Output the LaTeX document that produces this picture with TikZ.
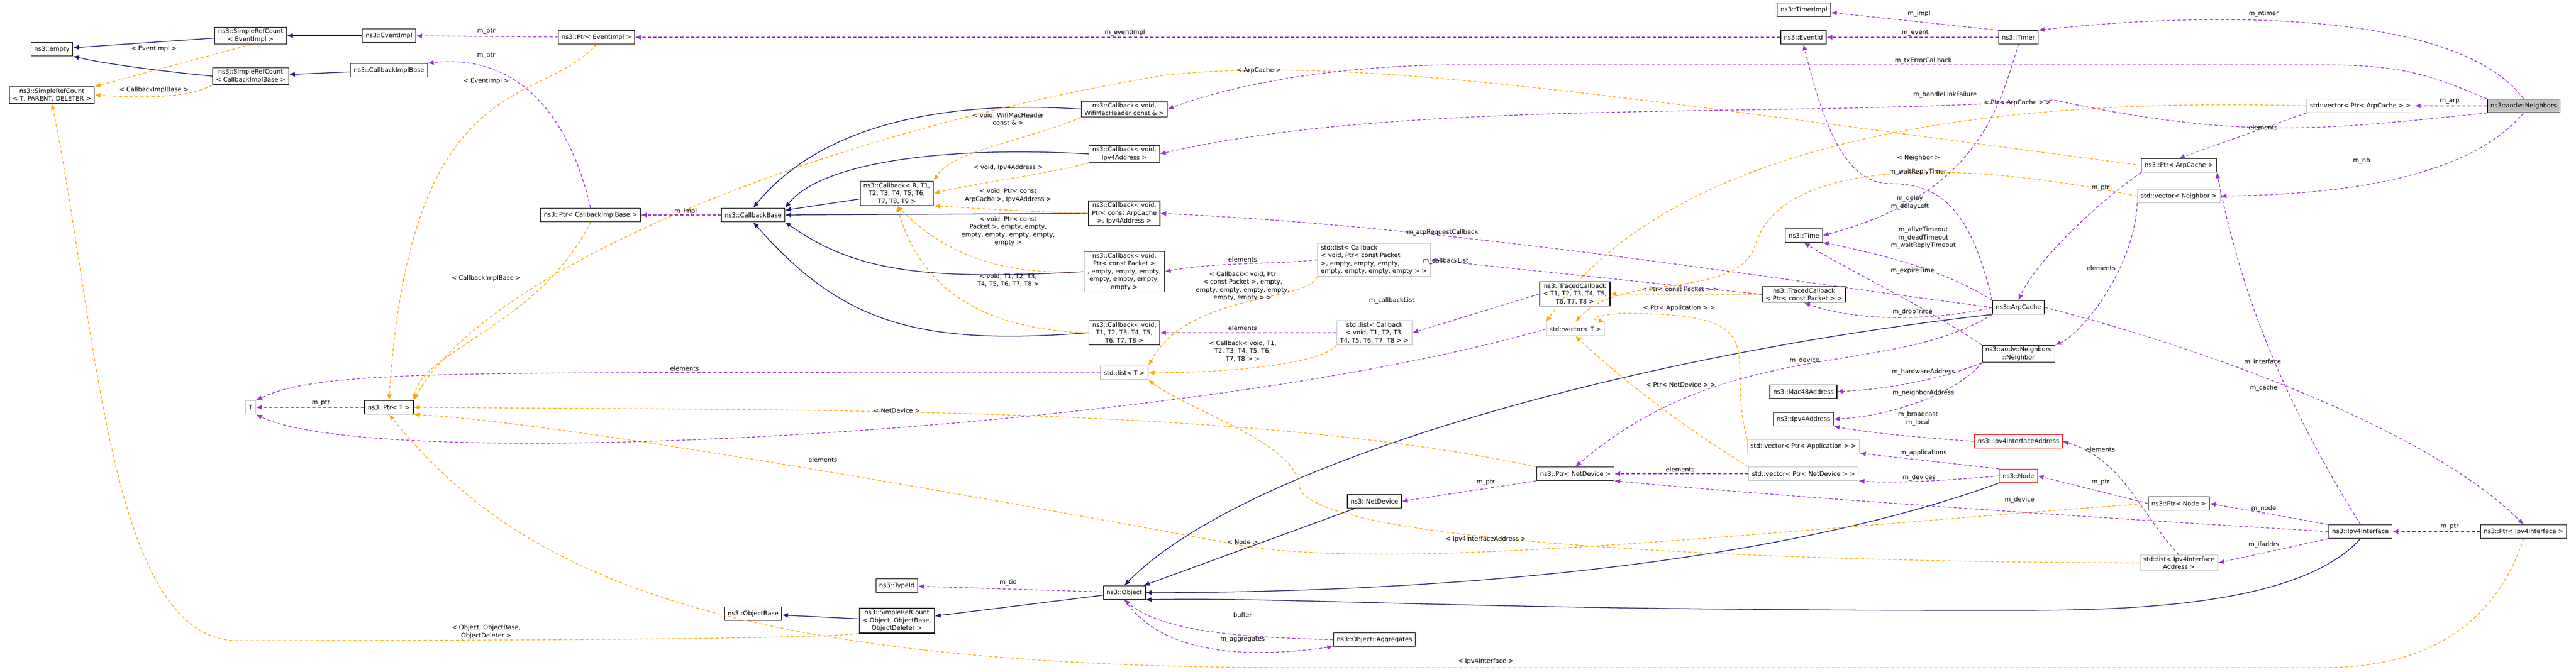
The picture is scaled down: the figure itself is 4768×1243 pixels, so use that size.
\documentclass[tikz,border=0pt]{standalone}
\usepackage{fontspec}
\newfontfamily\dxfont{DejaVu Sans}
\usetikzlibrary{arrows.meta}
\definecolor{navyc}{HTML}{191970}
\definecolor{purpc}{HTML}{9A32CD}
\definecolor{orngc}{HTML}{FFA500}
\newcommand{\dx}{\dxfont\fontsize{11.5}{14.5}\selectfont}
\tikzset{
  cls/.style={draw=black,fill=white,line width=1.2pt,align=center,inner xsep=6pt,inner ysep=3pt,minimum height=25pt,font=\dx},
  tpl/.style={cls,draw=black!25},
  cur/.style={cls,fill=black!25},
  redbox/.style={cls,draw=red},
  inh/.style={draw=navyc,line width=1.3pt,-{Latex[length=11pt,width=9pt]}},
  usedge/.style={draw=purpc,line width=1.3pt,dash pattern=on 6pt off 4pt,-{Latex[length=11pt,width=9pt]}},
  tpedge/.style={draw=orngc,line width=1.3pt,dash pattern=on 6pt off 4pt,-{Latex[length=11pt,width=9pt]}},
  lbl/.style={font=\dx,align=center,inner sep=1pt}
}
\begin{document}
\begin{tikzpicture}[x=1pt,y=-1pt]
  \useasboundingbox (0,0) rectangle (4768,1243);

  % classes, left part
  \node[cls] (empty) at (96,91) {ns3::empty};
  \node[cls] (srcEvent) at (464,66) {ns3::SimpleRefCount\\< EventImpl >};
  \node[cls] (eventImpl) at (720,66) {ns3::EventImpl};
  \node[cls] (ptrEvent) at (1104,69) {ns3::Ptr< EventImpl >};
  \node[cls] (srcTPD) at (96,176) {ns3::SimpleRefCount\\< T, PARENT, DELETER >};
  \node[cls] (srcCb) at (464,141) {ns3::SimpleRefCount\\< CallbackImplBase >};
  \node[cls] (cbImpl) at (720,130) {ns3::CallbackImplBase};
  \node[cls] (ptrCb) at (1093,398) {ns3::Ptr< CallbackImplBase >};
  \node[tpl] (T) at (464,754) {T};
  \node[cls] (ptrT) at (720,754) {ns3::Ptr< T >};

  % callbacks
  \node[cls] (cbBase) at (1394,398) {ns3::CallbackBase};
  \node[cls] (cbRT) at (1660,358) {ns3::Callback< R, T1,\\T2, T3, T4, T5, T6,\\T7, T8, T9 >};
  \node[cls] (cbWifi) at (2081,202) {ns3::Callback< void,\\WifiMacHeader const \& >};
  \node[cls] (cbIpv4) at (2081,285) {ns3::Callback< void,\\Ipv4Address >};
  \node[cls] (cbArp) at (2081,395) {ns3::Callback< void,\\Ptr< const ArpCache\\>, Ipv4Address >};
  \node[cls] (cbPkt) at (2081,503) {ns3::Callback< void,\\Ptr< const Packet >\\, empty, empty, empty,\\empty, empty, empty,\\empty >};
  \node[cls] (cbT8) at (2081,616) {ns3::Callback< void,\\T1, T2, T3, T4, T5,\\T6, T7, T8 >};
  \node[tpl] (listT) at (2081,690) {std::list< T >};

  % object part
  \node[cls] (typeId) at (1660,1084) {ns3::TypeId};
  \node[cls] (objBase) at (1394,1136) {ns3::ObjectBase};
  \node[cls] (srcObj) at (1660,1149) {ns3::SimpleRefCount\\< Object, ObjectBase,\\ObjectDeleter >};
  \node[cls] (object) at (2081,1097) {ns3::Object};
  \node[cls] (aggr) at (2544,1184) {ns3::Object::Aggregates};
  \node[cls] (netDev) at (2544,928) {ns3::NetDevice};
  \node[cls] (ptrDev) at (2916,877) {ns3::Ptr< NetDevice >};

  % middle
  \node[tpl,align=left] (listCbPkt) at (2543,481) {std::list< Callback\\< void, Ptr< const Packet\\>, empty, empty, empty,\\empty, empty, empty, empty > >};
  \node[tpl] (listCbT8) at (2544,616) {std::list< Callback\\< void, T1, T2, T3,\\T4, T5, T6, T7, T8 > >};
  \node[cls] (tcT8) at (2915,544) {ns3::TracedCallback\\< T1, T2, T3, T4, T5,\\T6, T7, T8 >};
  \node[tpl] (vecT) at (2916,609) {std::vector< T >};
  \node[cls] (tcPkt) at (3339,545) {ns3::TracedCallback\\< Ptr< const Packet > >};
  \node[cls] (timerImpl) at (3339,18) {ns3::TimerImpl};
  \node[cls] (eventId) at (3338,69) {ns3::EventId};
  \node[cls] (time) at (3339,436) {ns3::Time};
  \node[cls] (mac48) at (3338,725) {ns3::Mac48Address};
  \node[cls] (ipv4Addr) at (3338,776) {ns3::Ipv4Address};
  \node[tpl] (vecApp) at (3338,826) {std::vector< Ptr< Application > >};
  \node[tpl] (vecDev) at (3338,877) {std::vector< Ptr< NetDevice > >};

  % right part
  \node[cls] (timer) at (3736,69) {ns3::Timer};
  \node[cls] (arpCache) at (3736,569) {ns3::ArpCache};
  \node[cls] (neighbor) at (3736,655) {ns3::aodv::Neighbors\\::Neighbor};
  \node[redbox] (ifAddr) at (3736,817) {ns3::Ipv4InterfaceAddress};
  \node[redbox] (node) at (3736,881) {ns3::Node};
  \node[cls] (ptrArp) at (4033,306) {ns3::Ptr< ArpCache >};
  \node[tpl] (vecNb) at (4033,363) {std::vector< Neighbor >};
  \node[cls] (ptrNode) at (4033,932) {ns3::Ptr< Node >};
  \node[tpl] (listIfAddr) at (4033,1042) {std::list< Ipv4Interface\\Address >};
  \node[tpl] (vecPtrArp) at (4369,196) {std::vector< Ptr< ArpCache > >};
  \node[cls] (ipv4If) at (4369,984) {ns3::Ipv4Interface};
  \node[cur] (neighbors) at (4671,196) {ns3::aodv::Neighbors};
  \node[cls] (ptrIpv4If) at (4671,984) {ns3::Ptr< Ipv4Interface >};

  % inheritance
  \draw[inh] (srcEvent) -- (empty);
  \draw[inh] (srcCb.west) .. controls (330,135) and (200,120) .. (empty.south east);
  \draw[inh] (eventImpl) -- (srcEvent);
  \draw[inh] (cbImpl) -- (srcCb);
  \draw[inh] (cbRT) -- (cbBase);
  \draw[inh] (cbWifi.west) .. controls (1750,185) and (1520,230) .. (cbBase.north);
  \draw[inh] (cbIpv4.west) .. controls (1750,270) and (1520,300) .. (cbBase.north east);
  \draw[inh] (cbArp.west) -- (cbBase.east);
  \draw[inh] (cbPkt.west) .. controls (1700,520) and (1580,500) .. (cbBase.south east);
  \draw[inh] (cbT8.west) .. controls (1700,640) and (1560,600) .. (cbBase.south);
  \draw[inh] (srcObj) -- (objBase);
  \draw[inh] (object) -- (srcObj);
  \draw[inh] (netDev) -- (object);
  \draw[inh] (arpCache.south west) .. controls (3000,660) and (2300,860) .. (object.north);
  \draw[inh] (node.south west) .. controls (3300,1040) and (2700,1097) .. (object.east);
  \draw[inh] (ipv4If.south) .. controls (4250,1130) and (3900,1130) .. (3700,1130) .. controls (2700,1130) and (2400,1105) .. (object.south east);

  % template instances
  \draw[tpedge] (srcEvent.south) -- (srcTPD.north east);
  \node[lbl] (lEv1) at (285,90) {< EventImpl >};
  \draw[tpedge] (srcCb.south west) .. controls (350,180) and (280,182) .. (srcTPD.east);
  \node[lbl] (lCb1) at (285,166) {< CallbackImplBase >};
  \draw[tpedge] (srcObj.south west) .. controls (1500,1186) and (500,1186) .. (440,1186) .. controls (200,1186) and (180,600) .. (srcTPD.south);
  \node[lbl] (lObj) at (900,1170) {< Object, ObjectBase,\\ObjectDeleter >};
  \draw[tpedge] (ptrEvent.south) .. controls (1000,200) and (760,120) .. (ptrT.north);
  \node[lbl] (lEv2) at (900,150) {< EventImpl >};
  \draw[tpedge] (ptrCb.south) .. controls (1000,600) and (780,650) .. (ptrT.north east);
  \node[lbl] (lCb2) at (900,515) {< CallbackImplBase >};
  \draw[tpedge] (ptrArp.west) .. controls (3000,180) and (2500,100) .. (2150,140) .. controls (1500,250) and (900,500) .. (ptrT.north east);
  \node[lbl] (lArp) at (2330,130) {< ArpCache >};
  \draw[tpedge] (ptrDev.north west) .. controls (2300,750) and (1500,760) .. (ptrT.east);
  \node[lbl] (lDev) at (1660,760) {< NetDevice >};
  \draw[tpedge] (ptrNode.west) .. controls (3300,980) and (2600,1060) .. (2300,1010) .. controls (1600,880) and (1000,780) .. (ptrT.south east);
  \node[lbl] (lNode) at (2300,1003) {< Node >};
  \draw[tpedge] (ptrIpv4If.south) .. controls (4620,1150) and (4500,1236) .. (4300,1236) -- (2400,1236) .. controls (1300,1236) and (950,1050) .. (ptrT.south);
  \node[lbl] (lIf) at (2750,1224) {< Ipv4Interface >};
  \draw[tpedge] (cbWifi.south west) .. controls (1900,260) and (1760,280) .. (cbRT.north east);
  \node[lbl] (lW) at (1866,220) {< void, WifiMacHeader\\const \& >};
  \draw[tpedge] (cbIpv4.south west) .. controls (1950,320) and (1800,340) .. (cbRT.east);
  \node[lbl] (lI) at (1866,310) {< void, Ipv4Address >};
  \draw[tpedge] (cbArp.west) .. controls (1900,392) and (1800,385) .. (cbRT.south east);
  \node[lbl] (lA) at (1866,362) {< void, Ptr< const\\ArpCache >, Ipv4Address >};
  \draw[tpedge] (cbPkt.west) .. controls (1850,510) and (1750,470) .. (cbRT.south);
  \node[lbl] (lP) at (1866,428) {< void, Ptr< const\\Packet >, empty, empty,\\empty, empty, empty, empty,\\empty >};
  \draw[tpedge] (cbT8.west) .. controls (1800,610) and (1700,520) .. (cbRT.south);
  \node[lbl] (lT) at (1866,519) {< void, T1, T2, T3,\\T4, T5, T6, T7, T8 >};
  \draw[tpedge] (tcPkt) -- (tcT8);
  \node[lbl] (lTc) at (3110,535) {< Ptr< const Packet > >};
  \draw[tpedge] (listCbPkt.south west) .. controls (2420,560) and (2200,540) .. (listT.north east);
  \node[lbl] (lLc1) at (2300,530) {< Callback< void, Ptr\\< const Packet >, empty,\\empty, empty, empty, empty,\\empty, empty > >};
  \draw[tpedge] (listCbT8.south west) .. controls (2450,670) and (2300,690) .. (listT.east);
  \node[lbl] (lLc2) at (2300,650) {< Callback< void, T1,\\T2, T3, T4, T5, T6,\\T7, T8 > >};
  \draw[tpedge] (listIfAddr.west) .. controls (3200,1040) and (2420,1000) .. (2405,900) .. controls (2400,820) and (2200,760) .. (listT.south east);
  \node[lbl] (lIa) at (2750,998) {< Ipv4InterfaceAddress >};
  \draw[tpedge] (vecPtrArp.west) .. controls (3700,180) and (3100,250) .. (vecT.north west);
  \node[lbl] (lVa) at (3734,190) {< Ptr< ArpCache > >};
  \draw[tpedge] (vecNb.west) .. controls (3600,290) and (3300,300) .. (3250,450) .. controls (3220,560) and (3000,500) .. (vecT.north);
  \node[lbl] (lNb) at (3551,292) {< Neighbor >};
  \draw[tpedge] (vecApp.north west) .. controls (3190,650) and (3300,580) .. (3000,580) .. controls (2950,585) and (2940,590) .. (vecT.north east);
  \node[lbl] (lAp) at (3108,570) {< Ptr< Application > >};
  \draw[tpedge] (vecDev.north west) .. controls (3100,780) and (3000,700) .. (vecT.south);
  \node[lbl] (lVd) at (3111,712) {< Ptr< NetDevice > >};

  % members
  \draw[usedge] (ptrEvent) -- (eventImpl);
  \node[lbl] (lp1) at (900,58) {m\_ptr};
  \draw[usedge] (ptrCb.north) .. controls (1050,200) and (950,100) .. (cbImpl.north east);
  \node[lbl] (lp2) at (900,103) {m\_ptr};
  \draw[usedge] (ptrT) -- (T);
  \node[lbl] (lp3) at (594,746) {m\_ptr};
  \draw[usedge] (cbBase) -- (ptrCb);
  \node[lbl] (lImpl) at (1269,391) {m\_impl};
  \draw[usedge] (eventId) -- (ptrEvent);
  \node[lbl] (lEi) at (2082,60) {m\_eventImpl};
  \draw[usedge] (timer.north west) -- (timerImpl);
  \node[lbl] (lTi) at (3552,25) {m\_impl};
  \draw[usedge] (timer) -- (eventId);
  \node[lbl] (lEvt) at (3545,61) {m\_event};
  \draw[usedge] (neighbors.north) .. controls (4550,20) and (4100,20) .. (timer.north east);
  \node[lbl] (lNt) at (4190,25) {m\_ntimer};
  \draw[usedge] (neighbors.north west) .. controls (4500,140) and (4450,120) .. (4300,120) -- (2700,120) .. controls (2500,120) and (2300,150) .. (cbWifi.east);
  \node[lbl] (lTx) at (3560,112) {m\_txErrorCallback};
  \draw[usedge] (neighbors.south west) .. controls (4300,240) and (4150,260) .. (3800,185) .. controls (3300,220) and (2600,180) .. (cbIpv4.east);
  \node[lbl] (lHl) at (3600,175) {m\_handleLinkFailure};
  \draw[usedge] (neighbors) -- (vecPtrArp);
  \node[lbl] (lArp2) at (4534,188) {m\_arp};
  \draw[usedge] (neighbors.south) .. controls (4560,340) and (4300,360) .. (vecNb.east);
  \node[lbl] (lNbm) at (4371,297) {m\_nb};
  \draw[usedge] (vecPtrArp.south west) -- (ptrArp.north);
  \node[lbl] (lEl1) at (4189,236) {elements};
  \draw[usedge] (vecNb.south west) .. controls (3950,500) and (3850,620) .. (neighbor.north east);
  \node[lbl] (lEl2) at (3889,496) {elements};
  \draw[usedge] (ptrArp.south west) .. controls (3850,400) and (3760,500) .. (arpCache.north);
  \node[lbl] (lp4) at (3888,348) {m\_ptr};
  \draw[usedge] (arpCache.north west) .. controls (3650,400) and (3600,340) .. (3500,340) .. controls (3420,340) and (3380,250) .. (eventId.south);
  \node[lbl] (lWr) at (3550,318) {m\_waitReplyTimer};
  \draw[usedge] (timer.south) .. controls (3700,200) and (3660,360) .. (time.east);
  \node[lbl] (lDl) at (3535,375) {m\_delay\\m\_delayLeft};
  \draw[usedge] (arpCache.north west) .. controls (3600,500) and (3480,470) .. (time.south east);
  \node[lbl] (lTo) at (3560,440) {m\_aliveTimeout\\m\_deadTimeout\\m\_waitReplyTimeout};
  \draw[usedge] (neighbor.north west) .. controls (3550,560) and (3420,500) .. (time.south);
  \node[lbl] (lEt) at (3540,501) {m\_expireTime};
  \draw[usedge] (arpCache.west) .. controls (3600,590) and (3450,600) .. (tcPkt.south);
  \node[lbl] (lDt) at (3540,577) {m\_dropTrace};
  \draw[usedge] (arpCache.west) .. controls (3300,520) and (2700,420) .. (cbArp.east);
  \node[lbl] (lAr) at (2670,430) {m\_arpRequestCallback};
  \draw[usedge] (tcPkt.west) -- (listCbPkt.east);
  \node[lbl] (lCl1) at (2676,483) {m\_callbackList};
  \draw[usedge] (tcT8.west) -- (listCbT8.east);
  \node[lbl] (lCl2) at (2576,556) {m\_callbackList};
  \draw[usedge] (listCbPkt.west) .. controls (2350,490) and (2250,485) .. (cbPkt.east);
  \node[lbl] (lEl3) at (2300,480) {elements};
  \draw[usedge] (listCbT8.west) -- (cbT8.east);
  \node[lbl] (lEl4) at (2300,607) {elements};
  \draw[usedge] (listT.west) .. controls (900,691) and (600,680) .. (T.north east);
  \node[lbl] (lEl5) at (1267,682) {elements};
  \draw[usedge] (vecT.west) .. controls (2200,800) and (700,880) .. (T.south east);
  \node[lbl] (lEl6) at (1523,851) {elements};
  \draw[usedge] (arpCache.south west) .. controls (3500,700) and (3200,620) .. (ptrDev.north);
  \node[lbl] (lDv1) at (3340,667) {m\_device};
  \draw[usedge] (neighbor.south west) .. controls (3600,700) and (3500,720) .. (mac48.east);
  \node[lbl] (lHw) at (3560,688) {m\_hardwareAddress};
  \draw[usedge] (neighbor.south west) .. controls (3620,730) and (3500,770) .. (ipv4Addr.east);
  \node[lbl] (lNa) at (3560,727) {m\_neighborAddress};
  \draw[usedge] (ifAddr.west) .. controls (3550,810) and (3450,800) .. (ipv4Addr.south east);
  \node[lbl] (lBl) at (3550,775) {m\_broadcast\\m\_local};
  \draw[usedge] (node.north west) -- (vecApp.south east);
  \node[lbl] (lApm) at (3560,838) {m\_applications};
  \draw[usedge] (node.west) .. controls (3600,890) and (3500,895) .. (vecDev.south east);
  \node[lbl] (lDevs) at (3552,884) {m\_devices};
  \draw[usedge] (vecDev) -- (ptrDev);
  \node[lbl] (lEl7) at (3110,869) {elements};
  \draw[usedge] (ptrDev.south west) -- (netDev.east);
  \node[lbl] (lp5) at (2750,893) {m\_ptr};
  \draw[usedge] (ipv4If.west) .. controls (3900,960) and (3300,920) .. (ptrDev.south east);
  \node[lbl] (lDv2) at (3738,925) {m\_device};
  \draw[usedge] (arpCache.east) .. controls (4100,650) and (4500,800) .. (ptrIpv4If.north);
  \node[lbl] (lIfm) at (4188,670) {m\_interface};
  \draw[usedge] (ipv4If.north) .. controls (4200,700) and (4140,500) .. (ptrArp.south east);
  \node[lbl] (lCa) at (4190,718) {m\_cache};
  \draw[usedge] (ptrIpv4If) -- (ipv4If);
  \node[lbl] (lp6) at (4534,975) {m\_ptr};
  \draw[usedge] (ptrNode.west) -- (node.east);
  \node[lbl] (lp7) at (3888,893) {m\_ptr};
  \draw[usedge] (ipv4If.north west) -- (ptrNode.east);
  \node[lbl] (lNd) at (4190,941) {m\_node};
  \draw[usedge] (ipv4If.south west) -- (listIfAddr.east);
  \node[lbl] (lIfa) at (4190,1008) {m\_ifaddrs};
  \draw[usedge] (listIfAddr.north) .. controls (3960,950) and (3930,850) .. (ifAddr.east);
  \node[lbl] (lEl8) at (3888,832) {elements};
  \draw[usedge] (object) -- (typeId);
  \node[lbl] (lTid) at (1866,1078) {m\_tid};
  \draw[usedge] (aggr.west) .. controls (2300,1180) and (2150,1170) .. (object.south);
  \node[lbl] (lBuf) at (2300,1138) {buffer};
  \draw[usedge] (object.south) .. controls (2150,1210) and (2300,1220) .. (aggr.south west);
  \node[lbl] (lAg) at (2300,1184) {m\_aggregates};
\end{tikzpicture}
\end{document}
